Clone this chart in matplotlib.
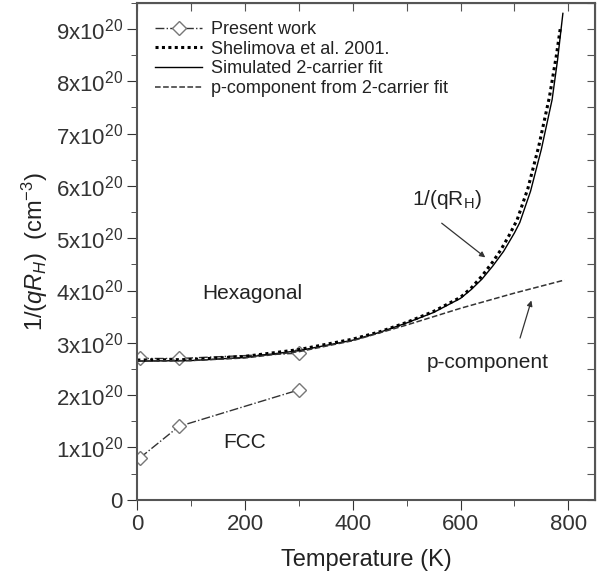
import matplotlib
matplotlib.use("Agg")
import matplotlib.pyplot as plt
from matplotlib.ticker import MultipleLocator, FixedLocator, FixedFormatter
import numpy as np

plt.rcParams['font.family'] = ['Liberation Sans', 'DejaVu Sans']
plt.rcParams['mathtext.fontset'] = 'custom'
plt.rcParams['mathtext.rm'] = 'Liberation Sans'
plt.rcParams['mathtext.it'] = 'Liberation Sans:italic'

# data (units of 1e20 cm^-3)
hex_T = [5, 77, 300]
hex_n = [2.70, 2.70, 2.80]
fcc_T = [5, 77, 300]
fcc_n = [0.80, 1.40, 2.10]

sim_T = [0, 100, 200, 300, 400, 450, 500, 550, 600, 620, 640, 660, 680, 700, 710,
         730, 750, 770, 780, 790]
sim_n = [2.65, 2.66, 2.72, 2.85, 3.05, 3.20, 3.38, 3.58, 3.85, 4.02, 4.22, 4.47, 4.75,
         5.10, 5.30, 5.90, 6.70, 7.65, 8.40, 9.30]

shel_T = [0, 100, 200, 300, 400, 450, 500, 550, 600, 620, 640, 660, 675, 690, 705,
          725, 745, 765, 778, 785]
shel_n = [2.67, 2.68, 2.74, 2.87, 3.07, 3.21, 3.39, 3.60, 3.87, 4.05, 4.28, 4.55, 4.78,
          5.05, 5.35, 5.95, 6.75, 7.70, 8.50, 9.00]

p_T = [0, 100, 200, 300, 400, 500, 600, 700, 793]
p_n = [2.65, 2.66, 2.71, 2.83, 3.04, 3.34, 3.66, 3.95, 4.20]

ytick_vals = [0, 1, 2, 3, 4, 5, 6, 7, 8, 9]
ytick_labels = ['0'] + [f'{v}x10$^{{20}}$' for v in ytick_vals[1:]]

fig, ax = plt.subplots(figsize=(5.97, 5.81), dpi=100)
fig.subplots_adjust(left=0.23, right=0.997, top=0.995, bottom=0.14)

ax.plot(hex_T, hex_n, '-.', color='#333333', lw=1, marker='D', ms=7,
        mfc='white', mec='#777777', mew=1, label='Present work')
ax.plot(fcc_T, fcc_n, '-.', color='#333333', lw=1, marker='D', ms=7,
        mfc='white', mec='#777777', mew=1)
ax.plot(shel_T, shel_n, linestyle=(0, (1, 1.1)), color='black', lw=2.2,
        label='Shelimova et al. 2001.')
ax.plot(sim_T, sim_n, '-', color='black', lw=1, label='Simulated 2-carrier fit')
ax.plot(p_T, p_n, '--', color='#333333', lw=1.1, label='p-component from 2-carrier fit')

ax.set_xlim(0, 850)
ax.set_ylim(0, 9.5)
ax.xaxis.set_major_locator(MultipleLocator(200))
ax.xaxis.set_minor_locator(MultipleLocator(100))
ax.yaxis.set_major_locator(FixedLocator(ytick_vals))
ax.yaxis.set_major_formatter(FixedFormatter(ytick_labels))
ax.yaxis.set_minor_locator(MultipleLocator(0.5))

ax.tick_params(which='both', direction='out', labelsize=16, colors='#333333')
ax.tick_params(which='major', length=7)
ax.tick_params(which='minor', length=4)
for s in ax.spines.values():
    s.set_color('#555555')
    s.set_linewidth(1.5)

# inward ticks on top and right
axt = ax.secondary_xaxis('top')
axt.xaxis.set_major_locator(MultipleLocator(100))
axt.tick_params(direction='in', length=6, labeltop=False, colors='#555555')
axr = ax.secondary_yaxis('right')
axr.yaxis.set_major_locator(MultipleLocator(0.5))
axr.tick_params(direction='in', length=6, labelright=False, colors='#555555')

ax.set_xlabel('Temperature (K)', fontsize=17, color='#222222', labelpad=10)
ax.set_ylabel('1/($qR_H$)  (cm$^{-3}$)', fontsize=17, color='#222222', labelpad=4)

ax.text(120, 3.95, 'Hexagonal', fontsize=15, va='center', color='#222222')
ax.text(160, 1.09, 'FCC', fontsize=15, va='center', color='#222222')
ax.text(510, 5.74, '1/(qR$_\\mathrm{H}$)', fontsize=15, va='center', color='#222222')
ax.annotate('', xy=(650, 4.6), xytext=(561, 5.32),
            arrowprops=dict(arrowstyle='-|>', color='#333333', lw=0.9, mutation_scale=8))
ax.text(537, 2.62, 'p-component', fontsize=15, va='center', color='#222222')
ax.annotate('', xy=(733, 3.86), xytext=(709, 3.04),
            arrowprops=dict(arrowstyle='-|>', color='#333333', lw=0.9, mutation_scale=8))

ax.legend(loc='upper left', frameon=False, fontsize=13, handlelength=2.6,
          handletextpad=0.5, labelspacing=0.15, borderaxespad=0.6,
          labelcolor='#222222')

fig.savefig('out.png', dpi=100)
